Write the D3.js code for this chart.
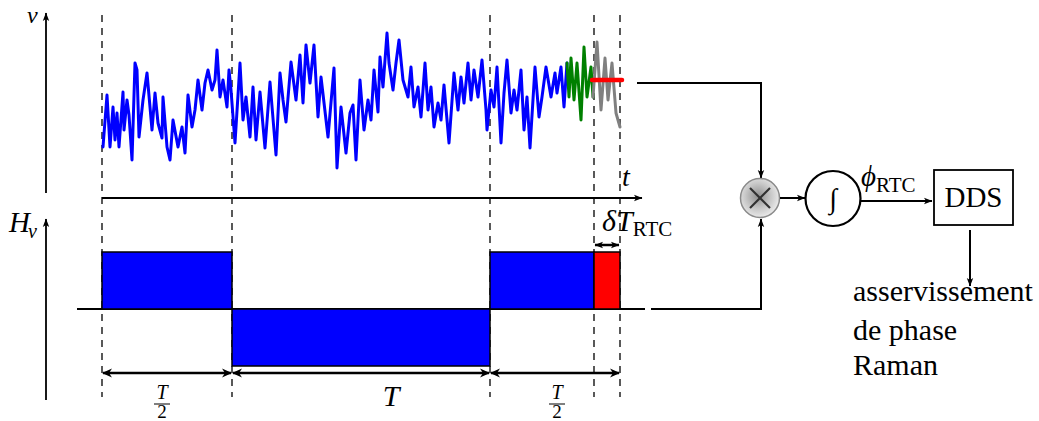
<!DOCTYPE html>
<html><head><meta charset="utf-8">
<script src="https://cdn.jsdelivr.net/npm/d3@7"></script>
<style>
body{margin:0;background:#fff}
svg{display:block}
svg text{font-family:'Liberation Serif','DejaVu Serif','Tinos','Times New Roman','Times','FreeSerif','Noto Serif',serif;fill:#000}
.it{font-style:italic}
</style>
</head><body>
<svg id="c" width="1039" height="421"></svg>
<script>
// ---------- data ----------
const blueT = [1,5,8,11,13,15,17,21,22,25,27,30,33,35,37,41,45,48,50,53,56,60,61,65,68,71,76,80,83,86,90,93,96,100,103,106,110,113,115,118,121,125,127,
  129,133,138,141,144,148,151,154,158,163,168,174,178,181,184,189,194,198,201,204,208,212,216,219,226,232,235,239,244,248,251,254,
  258,262,266,269,272,276,278,281,285,287,291,294,297,301,306,309,312,316,319,323,326,329,332,336,339,342,347,352,356,359,362,366,369,372,376,380,384,
  385,389,392,395,399,402,405,409,412,415,419,422,425,428,433,437,440,444,449,453,455,459,462,465];
const blueV = [28,80,28,68,35,62,28,83,45,75,60,15,112,105,38,75,102,68,45,82,52,37,78,28,15,55,28,48,22,80,48,65,95,65,92,105,85,95,125,78,95,68,105,
  85,32,112,55,78,38,88,35,83,27,93,20,102,75,53,113,75,120,72,130,92,130,58,98,38,107,7,68,22,62,70,15,
  95,45,75,55,105,63,118,88,142,112,85,112,135,95,78,108,68,88,58,112,65,88,48,72,55,90,32,102,65,98,72,112,75,105,78,115,65,
  45,85,68,108,32,82,115,62,85,65,105,45,78,27,108,58,78,108,78,102,82,108,68,112];
const greenT = [465,467,469,472,475,479,482,485,489,491];
const greenV = [112,78,117,75,112,55,128,78,108,78];
const grayT = [491,495,499,503,506,510,514,518];
const grayV = [78,133,65,117,75,112,62,48];
const phaseT = [490,520];
const phaseV = [95,95];

const boundaries = [0,130,388,492,518];
const pulseStart = [0,130,388,492];
const pulseEnd   = [130,388,492,518];
const pulseH     = [1,-1,1,1];
const pulseColor = ["#0000ff","#0000ff","#0000ff","#ff0000"];
const spanStart = [0,130,388];
const spanEnd   = [130,388,518];
const spanLabel = ["T/2","T","T/2"];
const spanLabelAt = [60,289,455];

// ---------- scales ----------
const svg = d3.select("#c");
const x  = d3.scaleLinear().domain([0,518]).range([102,620]);
const yV = d3.scaleLinear().domain([0,150]).range([175,25]);
const yH = d3.scaleLinear().domain([-1,1]).range([366,252]);

// ---------- markers ----------
const defs = svg.append("defs");
function mk(id, path){
  defs.append("marker").attr("id",id).attr("markerUnits","userSpaceOnUse")
    .attr("viewBox","-12 -6 14 12").attr("refX",0).attr("refY",0)
    .attr("markerWidth",14).attr("markerHeight",12).attr("orient","auto-start-reverse")
    .append("path").attr("d",path).attr("fill","#000");
}
mk("arr","M0.5,0 L-8,-3.2 L-6,0 L-8,3.2 Z");
mk("big","M1,0 L-9,-4.5 L-6,0 L-9,4.5 Z");
const g = defs.append("radialGradient").attr("id","ball").attr("cx","45%").attr("cy","45%").attr("r","60%");
g.append("stop").attr("offset","0%").attr("stop-color","#8f8f8f");
g.append("stop").attr("offset","55%").attr("stop-color","#c8c8c8");
g.append("stop").attr("offset","100%").attr("stop-color","#f0f0f0");

// ---------- dashed time markers ----------
svg.append("g").selectAll("line").data(boundaries).join("line")
  .attr("x1",d=>x(d)).attr("x2",d=>x(d)).attr("y1",15).attr("y2",397)
  .attr("stroke","#000").attr("stroke-width",1.3).attr("stroke-dasharray","7,6");

// ---------- axes ----------
function line(x1,y1,x2,y2,opt={}){
  const l = svg.append("line").attr("x1",x1).attr("y1",y1).attr("x2",x2).attr("y2",y2)
    .attr("stroke","#000").attr("stroke-width",opt.w||1.8);
  if(opt.end) l.attr("marker-end","url(#"+opt.end+")");
  if(opt.start) l.attr("marker-start","url(#"+opt.start+")");
  return l;
}
line(46,193,46,13,{end:"arr"});
line(46,400,46,219,{end:"arr"});
line(x(0),198,642,198,{end:"arr"});
line(77,yH(0),645,yH(0),{w:2});

// ---------- signal ----------
const ln = d3.line().x(d=>x(d[0])).y(d=>yV(d[1]));
function trace(T,V,c,w){
  svg.append("path").datum(T.map((t,i)=>[t,V[i]])).attr("d",ln)
   .attr("fill","none").attr("stroke",c).attr("stroke-width",w)
   .attr("stroke-linejoin","round").attr("stroke-linecap","round");
}
trace(blueT,blueV,"#0000ff",3);
trace(greenT,greenV,"#008000",3);
trace(grayT,grayV,"#808080",3);
trace(phaseT,phaseV,"#ff0000",4.5);

// ---------- Hv pulses ----------
svg.append("g").selectAll("rect").data(pulseStart).join("rect")
  .attr("x",(d)=>x(d)).attr("width",(d,i)=>x(pulseEnd[i])-x(d))
  .attr("y",(d,i)=>Math.min(yH(pulseH[i]),yH(0)))
  .attr("height",(d,i)=>Math.abs(yH(pulseH[i])-yH(0)))
  .attr("fill",(d,i)=>pulseColor[i]).attr("stroke","#000").attr("stroke-width",1.5);

// delta T arrow
line(x(492)+1,245,x(518)-1,245,{w:2.5,start:"arr",end:"arr"});
const dt = svg.append("text").attr("x",602).attr("y",231).attr("font-size",30);
dt.append("tspan").attr("class","it").text("δT");
dt.append("tspan").attr("font-size",21).attr("dy",5).text("RTC");

// ---------- span arrows ----------
spanStart.forEach((s,i)=>{
  line(x(s)+1,373,x(spanEnd[i])-1,373,{w:2.5,start:"big",end:"big"});
  const cx = x(spanLabelAt[i]);
  if(spanLabel[i]==="T"){
    svg.append("text").attr("class","it").attr("x",cx).attr("y",406).attr("text-anchor","middle").attr("font-size",30).text("T");
  } else {
    svg.append("text").attr("class","it").attr("x",cx).attr("y",399).attr("text-anchor","middle").attr("font-size",20).text("T");
    line(cx-8,404,cx+8,404,{w:1});
    svg.append("text").attr("x",cx).attr("y",418).attr("text-anchor","middle").attr("font-size",19).text("2");
  }
});

// ---------- labels ----------
svg.append("text").attr("class","it").attr("x",27).attr("y",23).attr("font-size",24).text("v");
const hv = svg.append("text").attr("x",9).attr("y",232).attr("font-size",29);
hv.append("tspan").attr("class","it").text("H");
hv.append("tspan").attr("class","it").attr("font-size",20).attr("dy",6).attr("dx",-2).text("v");
svg.append("text").attr("class","it").attr("x",622).attr("y",186).attr("font-size",28).text("t");

// ---------- block diagram ----------
line(637,83,761,83,{w:2});
line(761,82,761,178,{w:2,end:"arr"});
line(651,309,761,309,{w:2});
line(761,310,761,219,{w:2,end:"arr"});
svg.append("circle").attr("cx",760).attr("cy",198).attr("r",19.5)
  .attr("fill","url(#ball)").attr("stroke","#8a8a8a").attr("stroke-width",1.5);
line(750,188,770,208,{w:2.2}).attr("stroke","#303030");
line(770,188,750,208,{w:2.2}).attr("stroke","#303030");
line(780,198,805,198,{w:2,end:"arr"});
svg.append("circle").attr("cx",833).attr("cy",198.5).attr("r",27.5)
  .attr("fill","#fff").attr("stroke","#000").attr("stroke-width",2.2);
svg.append("text").attr("class","it").attr("x",833).attr("y",208).attr("text-anchor","middle").attr("font-size",28).text("∫");
line(861,201,932,201,{w:2,end:"arr"});
const ph = svg.append("text").attr("x",861).attr("y",186).attr("font-size",29);
ph.append("tspan").attr("class","it").text("ϕ");
ph.append("tspan").attr("font-size",21).attr("dy",6).text("RTC");
svg.append("rect").attr("x",934).attr("y",170).attr("width",79).attr("height",55)
  .attr("fill","#fff").attr("stroke","#000").attr("stroke-width",1.8);
svg.append("text").attr("x",973.5).attr("y",207).attr("text-anchor","middle").attr("font-size",29).text("DDS");
line(970,230,970,286,{w:2,end:"arr"});
[["asservissement",301],["de phase",340],["Raman",375]].forEach(d=>{
  svg.append("text").attr("x",853).attr("y",d[1]).attr("font-size",30).text(d[0]);
});
</script>
</body></html>
